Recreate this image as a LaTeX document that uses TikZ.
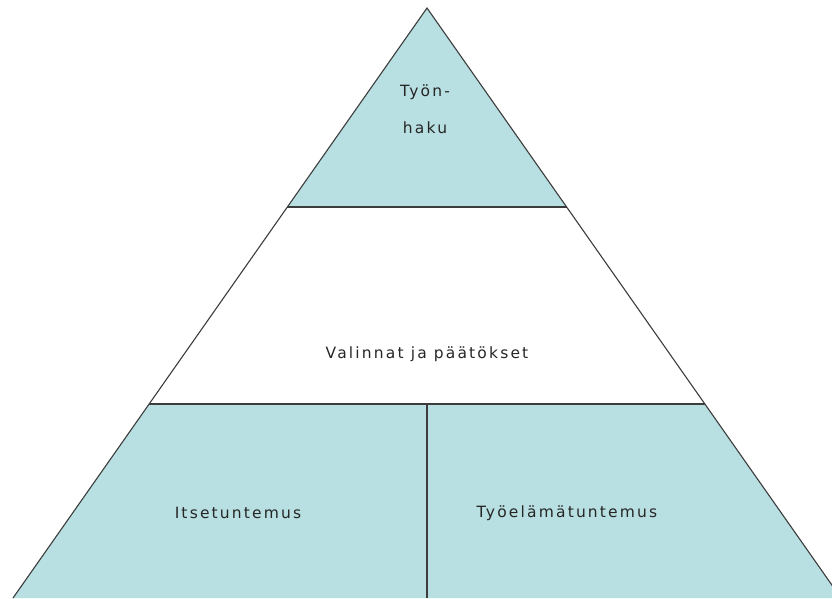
\documentclass[tikz,border=0pt]{standalone}
\usepackage{fontspec}
\newfontfamily\labelfont[LetterSpace=14]{DejaVu Sans}
\definecolor{pyrfill}{RGB}{184,223,225}
\definecolor{pyrline}{RGB}{60,60,60}
\tikzset{
  edge/.style={draw=pyrline, line width=1.1pt},
  lbl/.style={font=\labelfont\fontsize{15.5}{18}\selectfont, text=black!85, inner sep=0pt, align=center}
}
\begin{document}
\begin{tikzpicture}[x=1pt,y=-1pt]
\useasboundingbox (0,0) rectangle (832,598);
\clip (0,0) rectangle (832,598);
\coordinate (apex) at (427,8);
\coordinate (tl) at (287.4,207);
\coordinate (tr) at (566.6,207);
\coordinate (ml) at (149,404);
\coordinate (mr) at (705,404);
\coordinate (mm) at (427,404);
\coordinate (bl) at (13,598);
\coordinate (br) at (841,598);
\coordinate (bm) at (427,598);
\fill[pyrfill] (apex) -- (tl) -- (tr) -- cycle;
\fill[pyrfill] (ml) -- (mr) -- (br) -- (bl) -- cycle;
\draw[edge] (bl) -- (apex) -- (br);
\draw[edge] (tl) -- (tr);
\draw[edge] (ml) -- (mr);
\draw[edge] (mm) -- (bm);
\node[lbl] (top) at (425,109) {Työn-\\[19pt]haku};
\node[lbl] (mid) at (427,354) {Valinnat ja päätökset};
\node[lbl] (left) at (238,513) {Itsetuntemus};
\node[lbl] (right) at (567,513) {Työelämätuntemus};
\end{tikzpicture}
\end{document}
